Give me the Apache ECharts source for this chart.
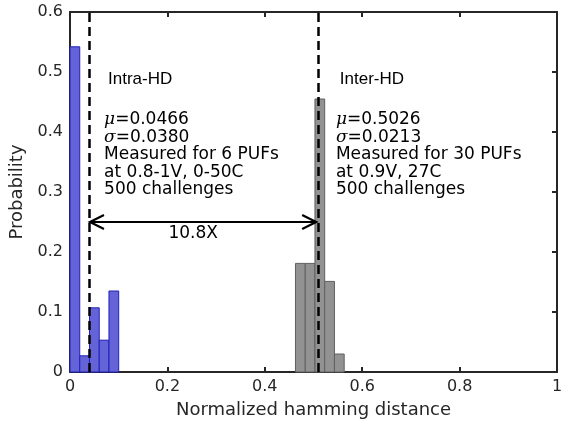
<!DOCTYPE html>
<html>
<head>
<meta charset="utf-8">
<script src="https://cdn.jsdelivr.net/npm/echarts@6/dist/echarts.min.js"></script>
<style>
  html, body { margin: 0; padding: 0; background: #fff; }
  #chart { width: 566px; height: 426px; }
</style>
</head>
<body>
<div id="chart"></div>
<script>
// histogram bins (left edge), width 0.02
const binWidth = 0.02
const intraLeft = [0, 0.02, 0.04, 0.06, 0.08]
const intraProb = [0.542, 0.027, 0.107, 0.053, 0.135]
const interLeft = [0.463, 0.483, 0.503, 0.523, 0.543]
const interProb = [0.181, 0.181, 0.455, 0.151, 0.030]

// mean markers (as drawn) and arrow height
const intraMean = 0.041
const interMean = 0.5055
const arrowY = 0.25

const xTicks = { min: 0, max: 1, interval: 0.2 }
const yTicks = { min: 0, max: 0.6, interval: 0.1 }

const axisColor = "#262626"
const sans = "DejaVu Sans"

let chart = echarts.init(document.getElementById("chart"))

function binRows(left, prob) {
    return left.map((l, i) => [l, l + binWidth, prob[i]])
}

function renderBar(params, api) {
    let p0 = api.coord([api.value(0), api.value(2)])
    let p1 = api.coord([api.value(1), 0])
    return {
        type: "rect",
        shape: { x: p0[0], y: p0[1], width: p1[0] - p0[0], height: p1[1] - p0[1] },
        style: api.style()
    }
}

function renderArrow(params, api) {
    let a = api.coord([api.value(0), api.value(2)])
    let b = api.coord([api.value(1), api.value(2)])
    let st = { stroke: "#000", lineWidth: 2.2, fill: null }
    return {
        type: "group",
        children: [
            { type: "line", shape: { x1: a[0], y1: a[1], x2: b[0], y2: b[1] }, style: st },
            { type: "polyline", shape: { points: [[a[0] + 14, a[1] - 7], [a[0], a[1]], [a[0] + 14, a[1] + 7]] }, style: st },
            { type: "polyline", shape: { points: [[b[0] - 14, b[1] - 7], [b[0], b[1]], [b[0] - 14, b[1] + 7]] }, style: st }
        ]
    }
}

function axisBase(isX, show) {
    let t = isX ? xTicks : yTicks
    return {
        type: "value",
        min: t.min,
        max: t.max,
        interval: t.interval,
        axisLine: { show: true, onZero: false, lineStyle: { color: axisColor, width: 2 } },
        axisTick: { show: true, inside: true, length: 5, lineStyle: { color: axisColor, width: 2 } },
        axisLabel: { show: show, fontSize: 16, color: axisColor, fontFamily: sans, margin: 7 },
        splitLine: { show: false }
    }
}

let xMain = Object.assign(axisBase(true, true), {
    position: "bottom",
    name: "Normalized hamming distance",
    nameLocation: "middle",
    nameGap: 29,
    nameTextStyle: { fontSize: 18, color: axisColor, fontFamily: sans }
})
let xTop = Object.assign(axisBase(true, false), { position: "top" })
let yMain = Object.assign(axisBase(false, true), {
    position: "left",
    name: "Probability",
    nameLocation: "middle",
    nameGap: 26,
    nameTextStyle: { fontSize: 18, color: axisColor, fontFamily: sans }
})
let yRight = Object.assign(axisBase(false, false), { position: "right" })

chart.setOption({
    animation: false,
    grid: { left: 70, right: 9, top: 12, bottom: 54 },
    xAxis: [xMain, xTop],
    yAxis: [yMain, yRight],
    series: [
        {
            type: "custom",
            renderItem: renderBar,
            data: binRows(intraLeft, intraProb),
            encode: { x: [0, 1], y: 2 },
            itemStyle: { color: "#6464d8", borderColor: "#2020b8", borderWidth: 1 },
            z: 2
        },
        {
            type: "custom",
            renderItem: renderBar,
            data: binRows(interLeft, interProb),
            encode: { x: [0, 1], y: 2 },
            itemStyle: { color: "#929292", borderColor: "#606060", borderWidth: 1 },
            z: 2,
            // dashed mean lines
            markLine: {
                silent: true,
                symbol: ["none", "none"],
                label: { show: false },
                lineStyle: { color: "#000", width: 2.5, type: [9, 5] },
                data: [{ xAxis: intraMean }, { xAxis: interMean }],
                z: 5
            }
        },
        {
            type: "custom",
            renderItem: renderArrow,
            data: [[intraMean, interMean, arrowY]],
            encode: { x: [0, 1], y: 2 },
            z: 6
        }
    ]
})

// text annotations, anchored in data coordinates
const notes = [
    { at: [0.078, 0.487], text: "Intra-HD", font: "Liberation Sans", v: "middle" },
    { at: [0.554, 0.487], text: "Inter-HD", font: "Liberation Sans", v: "middle" },
    { at: [0.07, 0.435], text: "{i|μ}=0.0466\n{i|σ}=0.0380\nMeasured for 6 PUFs\nat 0.8-1V, 0-50C\n500 challenges", font: sans, v: "top" },
    { at: [0.546, 0.435], text: "{i|μ}=0.5026\n{i|σ}=0.0213\nMeasured for 30 PUFs\nat 0.9V, 27C\n500 challenges", font: sans, v: "top" },
    { at: [0.253, 0.23], text: "10.8X", font: sans, v: "middle", align: "center" }
]

chart.setOption({
    graphic: notes.map(n => {
        let p = chart.convertToPixel({ gridIndex: 0 }, n.at)
        return {
            type: "text",
            x: p[0],
            y: p[1],
            z: 10,
            style: {
                text: n.text,
                fill: "#000",
                fontSize: 17,
                fontFamily: n.font,
                lineHeight: 17.5,
                align: n.align || "left",
                verticalAlign: n.v,
                rich: {
                    i: { fontStyle: "italic", fontFamily: "DejaVu Serif", fontSize: 17, lineHeight: 17.5 }
                }
            }
        }
    })
})
</script>
</body>
</html>
